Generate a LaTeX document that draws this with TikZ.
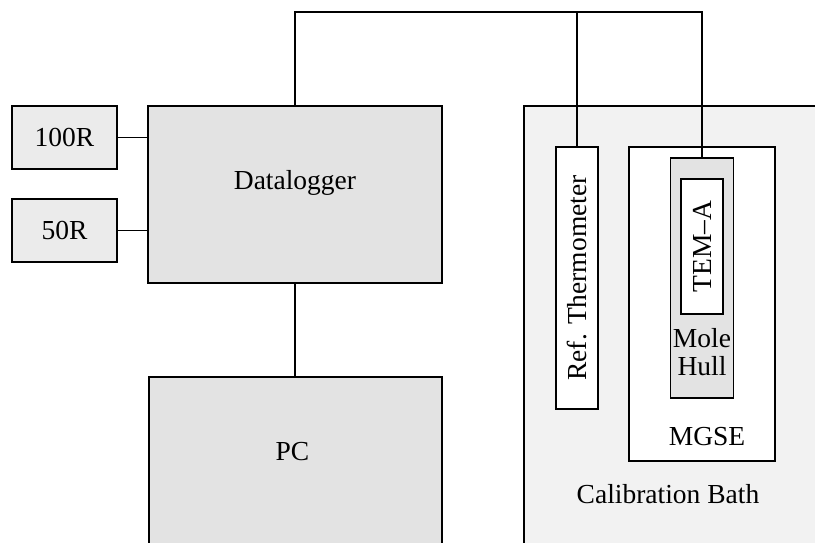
\documentclass[tikz,border=0pt]{standalone}
\usepackage{fontspec}
\setmainfont{Liberation Serif}
\usepackage{xcolor}
\usetikzlibrary{calc}

\definecolor{boxgray}{gray}{0.89}
\definecolor{resgray}{gray}{0.92}
\definecolor{bathgray}{gray}{0.95}

\tikzset{
	unit/.style = {draw, line width = 1.6pt, fill = boxgray, inner sep = 0pt},
	probe/.style = {draw, line width = 1.3pt, fill = white, inner sep = 0pt},
	wire/.style = {line width = 1.8pt},
	lead/.style = {line width = 1.2pt}
}

\begin{document}
\begin{tikzpicture}[x = 1pt, y = -1pt, font = \fontsize{27.5}{29}\selectfont]
					\useasboundingbox (0,0) rectangle (815,542);
					\clip (0,0) rectangle (815,542);

					\begin{scope}
						\node [unit, fill = bathgray, minimum width = 400pt, minimum height = 474pt,
							label = {[xshift = -56pt, yshift = -151pt]center:Calibration Bath}] (bath) at (724,343) {};
						\node [probe, minimum width = 146pt, minimum height = 314pt,
							label = {[xshift = 5pt, yshift = -133pt]center:MGSE}] (mgse) at (702,304) {};
						\node [unit, line width = 1.3pt, minimum width = 63pt, minimum height = 240pt,
							label = {[yshift = -74pt, align = center, font = \fontsize{27.5}{28}\selectfont]center:Mole\\Hull}] (hull) at (702,278) {};
						\node [probe, rotate = 90, minimum width = 135pt, minimum height = 42pt] (tem) at (702,246.5) {TEM–A};
						\node [probe, rotate = 90, minimum width = 262pt, minimum height = 42pt] (ref) at (577,278) {Ref. Thermometer};
					\end{scope}

					\begin{scope}
						\node [unit, fill = resgray, line width = 2pt, minimum width = 105pt, minimum height = 63pt] (r100) at (64.5,137.5) {100R};
						\node [unit, fill = resgray, line width = 2pt, minimum width = 105pt, minimum height = 63pt] (r50) at (64.5,230.5) {50R};
						\node [unit, minimum width = 294pt, minimum height = 177pt,
							label = {[yshift = 12pt]center:Datalogger}] (logger) at (295,194.5) {};
						\node [unit, minimum width = 293pt, minimum height = 223pt,
							label = {[xshift = -3pt, yshift = 36.5pt]center:PC}] (pc) at (295.5,488.5) {};
					\end{scope}

					\coordinate (top) at (500,12);

					\begin{scope}[wire]
						\draw (logger.north) |- (top) -| (hull.north);
						\draw (ref.east) -- (ref.east |- top);
						\draw (logger.south) -- (pc.north -| logger.south);
					\end{scope}

					\begin{scope}[lead]
						\draw (r100.east) -- (r100.east -| logger.west);
						\draw (r50.east) -- (r50.east -| logger.west);
					\end{scope}
				\end{tikzpicture}
\end{document}
